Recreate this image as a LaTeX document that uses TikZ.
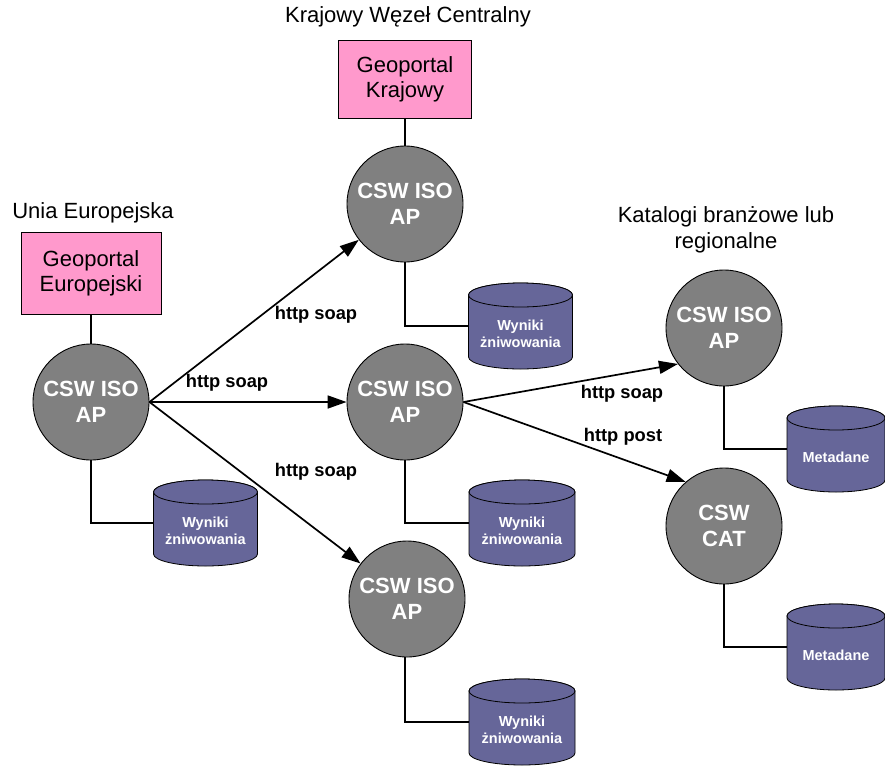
\documentclass[tikz,border=0pt]{standalone}
\usepackage{fontspec}
\setmainfont{Liberation Sans}
\usetikzlibrary{arrows.meta}
\definecolor{pinkfill}{HTML}{FF99CC}
\definecolor{grayfill}{HTML}{808080}
\definecolor{cylfill}{HTML}{666699}
\newcommand{\dbcyl}[5]{%
 \path[cylbody] (#2-#4,#3+31) -- (#2-#4,#3-31) arc[start angle=180,end angle=360,x radius=#4,y radius=12] -- (#2+#4,#3+31) arc[start angle=0,end angle=180,x radius=#4,y radius=12] -- cycle;
 \draw[cylbody] (#2,#3+31) ellipse[x radius=#4, y radius=12];
 \node[cylnode, minimum width=2*#4] (#1) at (#2,#3) {};
 \node[cyltext] (#1t) at (#2,#3-8) {#5};
}
\begin{document}
\begin{tikzpicture}[x=1pt,y=1pt,
 csw/.style={circle, draw=black, line width=0.9pt, fill=grayfill, minimum size=116pt, inner sep=0pt, text=white, font=\fontsize{22}{26}\selectfont\bfseries, align=center},
 portal/.style={rectangle, draw=black, line width=0.9pt, fill=pinkfill, inner sep=0pt, font=\fontsize{22}{25}\selectfont, align=center},
 title/.style={font=\fontsize{22}{26}\selectfont, align=center, inner sep=0pt},
 proto/.style={font=\fontsize{18.3}{20}\selectfont\bfseries, inner sep=0pt},
 link/.style={line width=1.7pt, -{Triangle[length=19pt,width=13pt]}},
 tie/.style={line width=1.4pt},
 cylbody/.style={fill=cylfill, draw=black, line width=0.8pt},
 cyltext/.style={text=white, font=\fontsize{14.5}{16.5}\selectfont\bfseries, align=center, inner sep=0pt},
 cylnode/.style={rectangle, minimum height=86pt, inner sep=0pt}
]
\useasboundingbox (0,0) rectangle (885,-769);

% titles
\node[title] (teu) at (93,-213) {Unia Europejska};
\node[title] (tkr) at (408,-17) {Krajowy Węzeł Centralny};
\node[title] (tkat) at (726,-230) {Katalogi branżowe lub\\regionalne};

% portals
\node[portal, minimum width=140pt, minimum height=82pt] (geu) at (91,-273) {Geoportal\\Europejski};
\node[portal, minimum width=133pt, minimum height=78pt] (gkr) at (405,-79) {Geoportal\\Krajowy};

% CSW nodes
\node[csw] (eu) at (91,-402) {CSW ISO\\AP};
\node[csw] (kr) at (405,-204) {CSW ISO\\AP};
\node[csw] (mid) at (405,-402) {CSW ISO\\AP};
\node[csw] (bot) at (407,-599) {CSW ISO\\AP};
\node[csw] (rt) at (724,-328) {CSW ISO\\AP};
\node[csw] (cat) at (724,-526) {CSW\\CAT};

% databases
\dbcyl{ceu}{205.5}{-523}{52}{Wyniki\\żniwowania}
\dbcyl{ckr}{520.5}{-326}{52}{Wyniki\\żniwowania}
\dbcyl{cmid}{522}{-523}{53}{Wyniki\\żniwowania}
\dbcyl{cbot}{522}{-722}{53}{Wyniki\\żniwowania}
\dbcyl{crt}{836}{-449}{49}{Metadane}
\dbcyl{ccat}{836}{-647}{49}{Metadane}

% ties
\draw[tie] (geu) -- (eu);
\draw[tie] (gkr) -- (kr);
\draw[tie] (eu.south) |- (ceu.west);
\draw[tie] (kr.south) |- (ckr.west);
\draw[tie] (mid.south) |- (cmid.west);
\draw[tie] (bot.south -| mid.south) |- (cbot.west);
\draw[tie] (rt.south) |- (crt.west);
\draw[tie] (cat.south) |- (ccat.west);

% links
\draw[link] (eu.east) -- (kr);
\draw[link] (eu.east) -- (mid.west);
\draw[link] (eu.east) -- (bot);
\draw[link] (mid.east) -- (rt.218);
\draw[link] (mid.east) -- (cat.131);

% link labels
\node[proto] (l1) at (316,-315) {http soap};
\node[proto] (l2) at (227,-383) {http soap};
\node[proto] (l3) at (316,-472) {http soap};
\node[proto] (l4) at (622,-394) {http soap};
\node[proto] (l5) at (623,-437) {http post};
\end{tikzpicture}
\end{document}
